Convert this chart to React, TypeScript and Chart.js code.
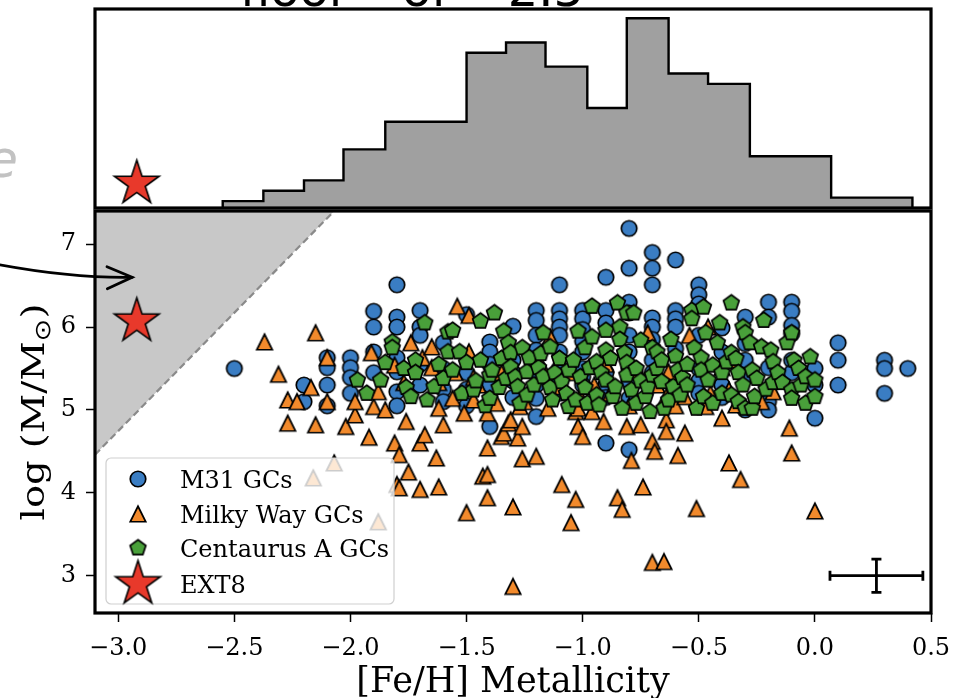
import React, { useEffect, useRef } from "react";
import { Chart, registerables } from "chart.js";
Chart.register(...registerables);

// ---------- axes ----------
const X_MIN = -3.1;
const X_MAX = 0.5;
const Y_MIN = 2.55;
const Y_MAX = 7.4;
const X_TICKS = [-3.0, -2.5, -2.0, -1.5, -1.0, -0.5, 0.0, 0.5];
const Y_TICKS = [3, 4, 5, 6, 7];
const X_LABEL = "[Fe/H] Metallicity";
const Y_LABEL_MAIN = "log (M/M";
const Y_LABEL_SUB = "\u2299";
const Y_LABEL_END = ")";

// ---------- histogram (top panel) ----------
const HIST_EDGES = [-2.55, -2.375, -2.2, -2.03, -1.85, -1.68, -1.5, -1.33, -1.16, -0.98, -0.81, -0.63, -0.46, -0.28, -0.11, 0.07, 0.24, 0.42];
const HIST_COUNTS = [2, 5, 8, 17, 25, 25, 45, 48, 41, 29, 55, 39, 36, 15, 15, 3, 3];
const HIST_MAX = 57.7;
const EXT8_HIST_Y = 7.1;

// ---------- scatter (bottom panel) ----------
const M31_GCS: [number, number][] = [
  [-2.5, 5.5],
  [-2.2, 5.3], [-2.2, 5.1],
  [-2.1, 5.63], [-2.1, 5.51], [-2.1, 5.3], [-2.1, 5.05],
  [-2.0, 5.63], [-2.0, 5.51], [-2.0, 5.39], [-2.0, 5.2],
  [-1.9, 6.19], [-1.9, 6.0], [-1.9, 5.7], [-1.9, 5.45],
  [-1.8, 6.51], [-1.8, 6.12], [-1.8, 6.0], [-1.8, 5.63], [-1.8, 5.46], [-1.8, 5.22], [-1.8, 5.05],
  [-1.7, 6.2], [-1.7, 6.0], [-1.7, 5.9], [-1.7, 5.55], [-1.7, 5.3],
  [-1.6, 5.81], [-1.6, 5.5], [-1.6, 5.25], [-1.6, 5.1],
  [-1.5, 6.15], [-1.5, 5.45], [-1.5, 5.25], [-1.5, 5.05],
  [-1.4, 5.82], [-1.4, 5.7], [-1.4, 5.55], [-1.4, 5.3], [-1.4, 4.8],
  [-1.3, 6.01], [-1.3, 5.6], [-1.3, 5.45], [-1.3, 5.35], [-1.3, 5.15],
  [-1.2, 6.2], [-1.2, 6.08], [-1.2, 5.9], [-1.2, 5.72], [-1.2, 5.45], [-1.2, 5.3], [-1.2, 5.14], [-1.2, 4.92],
  [-1.1, 6.51], [-1.1, 6.2], [-1.1, 6.1], [-1.1, 6.0], [-1.1, 5.9], [-1.1, 5.7], [-1.1, 5.5], [-1.1, 5.35], [-1.1, 5.2],
  [-1.0, 6.2], [-1.0, 6.1], [-1.0, 5.97], [-1.0, 5.83], [-1.0, 5.7], [-1.0, 5.5], [-1.0, 5.4], [-1.0, 5.3],
  [-0.9, 6.6], [-0.9, 6.2], [-0.9, 6.05], [-0.9, 5.6], [-0.9, 5.45], [-0.9, 5.3], [-0.9, 5.15], [-0.9, 4.6],
  [-0.8, 7.19], [-0.8, 6.71], [-0.8, 6.3], [-0.8, 6.17], [-0.8, 5.9], [-0.8, 5.7], [-0.8, 5.5], [-0.8, 5.35], [-0.8, 5.14], [-0.8, 4.52],
  [-0.7, 6.9], [-0.7, 6.71], [-0.7, 6.51], [-0.7, 6.11], [-0.7, 6.0], [-0.7, 5.85], [-0.7, 5.6], [-0.7, 5.45], [-0.7, 5.3],
  [-0.6, 6.81], [-0.6, 6.2], [-0.6, 6.1], [-0.6, 6.0], [-0.6, 5.74], [-0.6, 5.4], [-0.6, 5.25],
  [-0.5, 6.51], [-0.5, 6.39], [-0.5, 6.28], [-0.5, 5.9], [-0.5, 5.5], [-0.5, 5.35], [-0.5, 5.2],
  [-0.4, 5.99], [-0.4, 5.7], [-0.4, 5.3], [-0.4, 5.15],
  [-0.3, 6.12], [-0.3, 5.8], [-0.3, 5.6], [-0.3, 5.4], [-0.3, 5.0],
  [-0.2, 6.3], [-0.2, 6.12], [-0.2, 5.51], [-0.2, 5.1], [-0.2, 5.0],
  [-0.1, 6.3], [-0.1, 6.19], [-0.1, 6.02], [-0.1, 5.92], [-0.1, 5.6], [-0.1, 5.45],
  [0.0, 5.5], [0.0, 5.3], [0.0, 4.9],
  [0.1, 5.81], [0.1, 5.6], [0.1, 5.3],
  [0.3, 5.6], [0.3, 5.5], [0.3, 5.2],
  [0.4, 5.5],
];

const MW_GCS: [number, number][] = [
  [-2.37, 5.82], [-2.31, 5.43], [-2.27, 5.12], [-2.27, 4.84], [-2.23, 5.1], [-2.17, 5.27], [-2.16, 4.18],
  [-2.15, 5.93], [-2.15, 4.82], [-2.1, 5.63], [-2.1, 5.1], [-2.07, 4.36], [-2.02, 4.8], [-1.98, 4.94],
  [-1.98, 5.1], [-1.92, 4.67], [-1.91, 5.69], [-1.9, 5.04], [-1.88, 5.22], [-1.88, 3.65], [-1.85, 5.0],
  [-1.81, 5.54], [-1.81, 4.6], [-1.8, 4.1], [-1.79, 4.46], [-1.79, 4.06], [-1.77, 5.33], [-1.76, 4.86],
  [-1.75, 4.25], [-1.74, 5.81], [-1.7, 4.6], [-1.7, 4.04], [-1.69, 5.63], [-1.68, 4.7], [-1.65, 5.76],
  [-1.65, 5.51], [-1.63, 4.42], [-1.62, 5.02], [-1.62, 5.33], [-1.62, 4.07], [-1.6, 4.82],
  [-1.56, 5.14], [-1.55, 5.45], [-1.54, 6.25], [-1.51, 4.96], [-1.5, 3.76], [-1.49, 6.14], [-1.49, 5.7],
  [-1.47, 5.39], [-1.47, 5.12], [-1.45, 5.3], [-1.43, 4.2], [-1.41, 4.96], [-1.41, 4.54], [-1.41, 4.22],
  [-1.41, 3.94], [-1.37, 5.08], [-1.35, 5.45], [-1.35, 4.68], [-1.34, 4.72], [-1.32, 4.84], [-1.31, 4.88],
  [-1.3, 3.83], [-1.3, 2.87], [-1.28, 4.66], [-1.27, 5.04], [-1.26, 4.8], [-1.26, 4.41], [-1.25, 5.1],
  [-1.2, 5.6], [-1.2, 4.44], [-1.18, 5.55],
  [-1.15, 5.02], [-1.14, 5.88], [-1.11, 5.28], [-1.09, 4.1], [-1.05, 5.45], [-1.05, 3.64], [-1.03, 4.98],
  [-1.03, 3.92], [-1.02, 5.02], [-1.02, 4.8], [-1.01, 5.16], [-1.0, 4.68], [-0.96, 4.98], [-0.95, 5.3],
  [-0.91, 4.86], [-0.9, 5.55], [-0.88, 5.2], [-0.85, 3.94], [-0.83, 3.8], [-0.81, 4.8], [-0.8, 5.05],
  [-0.79, 4.39], [-0.76, 5.46], [-0.75, 4.82], [-0.74, 4.07], [-0.72, 5.93], [-0.7, 4.62], [-0.7, 3.16],
  [-0.69, 4.5], [-0.68, 5.3], [-0.65, 3.17], [-0.64, 5.16], [-0.64, 4.88], [-0.64, 4.74], [-0.63, 5.46],
  [-0.6, 5.05], [-0.59, 4.45], [-0.56, 5.16], [-0.56, 4.72], [-0.54, 5.9], [-0.51, 3.81], [-0.47, 5.04],
  [-0.46, 6.0], [-0.45, 5.2], [-0.4, 5.51], [-0.4, 4.9], [-0.37, 5.24], [-0.37, 4.36], [-0.36, 5.6],
  [-0.34, 5.06], [-0.32, 4.16], [-0.23, 5.1], [-0.18, 5.22], [-0.11, 4.78], [-0.1, 4.48], [0.0, 3.78],
];

const CENA_GCS: [number, number][] = [
  [-1.97, 5.36], [-1.93, 5.2], [-1.87, 5.36], [-1.85, 5.57], [-1.82, 5.82], [-1.82, 5.75], [-1.77, 5.5],
  [-1.76, 5.27], [-1.74, 5.16], [-1.72, 5.6], [-1.72, 5.45], [-1.68, 6.05], [-1.67, 5.12], [-1.64, 5.28],
  [-1.62, 5.55], [-1.6, 5.38], [-1.58, 5.7], [-1.58, 5.94], [-1.56, 5.96], [-1.56, 5.48], [-1.53, 5.7],
  [-1.52, 5.2], [-1.5, 5.57], [-1.47, 5.24], [-1.46, 5.35], [-1.44, 6.07], [-1.44, 5.6], [-1.42, 5.05],
  [-1.4, 5.42], [-1.4, 5.14], [-1.39, 5.48], [-1.38, 6.17], [-1.36, 5.27], [-1.35, 5.62], [-1.34, 5.95],
  [-1.33, 5.38], [-1.32, 5.81], [-1.31, 5.69], [-1.31, 5.52], [-1.29, 5.4], [-1.28, 5.28], [-1.27, 5.08],
  [-1.26, 5.75], [-1.24, 5.46], [-1.24, 5.18], [-1.23, 5.63], [-1.21, 5.3], [-1.19, 5.51], [-1.18, 5.68],
  [-1.17, 5.93], [-1.17, 5.4], [-1.14, 5.76], [-1.14, 5.27], [-1.13, 5.12], [-1.12, 5.45], [-1.1, 5.62],
  [-1.09, 5.34], [-1.07, 5.2], [-1.06, 5.48], [-1.06, 5.04], [-1.04, 5.6], [-1.03, 5.12], [-1.02, 5.95],
  [-1.01, 5.4], [-0.99, 5.75], [-0.99, 5.27], [-0.98, 5.08], [-0.97, 5.51], [-0.96, 6.25], [-0.96, 5.88],
  [-0.94, 5.58], [-0.94, 5.18], [-0.93, 5.06], [-0.92, 5.45], [-0.9, 5.96], [-0.9, 5.72], [-0.9, 5.36],
  [-0.88, 5.62], [-0.87, 5.16], [-0.86, 5.28], [-0.85, 6.29], [-0.84, 6.0], [-0.84, 5.85], [-0.83, 5.02],
  [-0.82, 5.69], [-0.81, 6.17], [-0.81, 5.57], [-0.81, 5.42], [-0.79, 5.24], [-0.78, 6.17], [-0.77, 5.5],
  [-0.77, 5.08], [-0.75, 5.84], [-0.75, 5.35], [-0.73, 5.16], [-0.72, 5.28], [-0.71, 4.98], [-0.7, 5.75],
  [-0.7, 5.42], [-0.68, 5.5], [-0.68, 5.7], [-0.66, 5.6], [-0.66, 5.34], [-0.65, 5.02], [-0.63, 5.12],
  [-0.62, 5.85], [-0.61, 5.28], [-0.6, 5.65], [-0.59, 5.48], [-0.58, 5.18], [-0.57, 5.39], [-0.55, 5.55],
  [-0.55, 5.3], [-0.53, 6.2], [-0.53, 6.1], [-0.52, 5.75], [-0.51, 5.02], [-0.49, 5.63], [-0.49, 5.48],
  [-0.48, 6.24], [-0.48, 5.16], [-0.47, 5.93], [-0.46, 5.36], [-0.44, 5.54], [-0.44, 5.08], [-0.42, 5.81],
  [-0.41, 6.05], [-0.4, 5.45], [-0.4, 5.2], [-0.38, 5.58], [-0.36, 6.29], [-0.36, 5.69], [-0.36, 5.18],
  [-0.34, 5.62], [-0.33, 5.45], [-0.33, 5.1], [-0.31, 6.0], [-0.31, 5.3], [-0.3, 5.93], [-0.3, 5.02],
  [-0.28, 5.81], [-0.27, 5.48], [-0.27, 5.02], [-0.26, 5.16], [-0.25, 5.38], [-0.23, 5.76], [-0.22, 6.08],
  [-0.21, 5.25], [-0.19, 5.72], [-0.18, 5.58], [-0.18, 5.33], [-0.16, 5.45], [-0.14, 5.33], [-0.12, 5.81],
  [-0.1, 5.93], [-0.1, 5.24], [-0.1, 5.14], [-0.09, 5.6], [-0.07, 5.5], [-0.06, 5.3], [-0.04, 5.4],
  [-0.04, 5.08], [-0.02, 5.64], [0.0, 5.36], [0.0, 5.16],
];

const EXT8: [number, number] = [-2.92, 6.07];

// shaded (excluded) region boundary
const SHADE_X = [-3.1, -2.07];
const SHADE_Y = [4.46, 7.4];

// representative error bar
const ERR_X = 0.265;
const ERR_Y = 3.0;
const ERR_DX = 0.2;
const ERR_DY = 0.2;

// annotation arrow (data coordinates, tail outside the axes)
const ARROW_FROM: [number, number] = [-3.51, 6.75];
const ARROW_TO: [number, number] = [-2.94, 6.6];

const LEGEND_LABELS = ["M31 GCs", "Milky Way GCs", "Centaurus A GCs", "EXT8"];

// ---------- styles ----------
const C_M31 = "#3a7dc3";
const C_MW = "#f28a2c";
const C_CENA = "#49a03a";
const C_EXT8 = "#e8392b";
const SERIF = '"DejaVu Serif", serif';

function makeMarker(kind: string, size: number, fill: string, lw = 1.7): HTMLCanvasElement {
  const pad = 4;
  const dim = Math.ceil(size + 2 * pad);
  const c = document.createElement("canvas");
  c.width = dim;
  c.height = dim;
  const ctx = c.getContext("2d")!;
  const cx = dim / 2;
  const cy = dim / 2;
  const r = size / 2;
  ctx.beginPath();
  if (kind === "circle") {
    ctx.arc(cx, cy, r, 0, Math.PI * 2);
  } else if (kind === "triangle") {
    ctx.moveTo(cx, cy - r);
    ctx.lineTo(cx + r, cy + r);
    ctx.lineTo(cx - r, cy + r);
    ctx.closePath();
  } else {
    const n = kind === "pentagon" ? 5 : 10;
    for (let i = 0; i < n; i++) {
      const a = -Math.PI / 2 + (i * 2 * Math.PI) / n;
      const rr = kind === "star" && i % 2 === 1 ? r * 0.381966 : r;
      const px = cx + rr * Math.cos(a);
      const py = cy + rr * Math.sin(a);
      if (i === 0) ctx.moveTo(px, py);
      else ctx.lineTo(px, py);
    }
    ctx.closePath();
  }
  ctx.fillStyle = fill;
  ctx.fill();
  ctx.lineWidth = lw;
  ctx.strokeStyle = "#000";
  ctx.lineJoin = "miter";
  ctx.stroke();
  return c;
}

const fmtX = (v: number) => {
  const s = Math.abs(v).toFixed(1);
  return v < -1e-9 ? "\u2212" + s : s;
};

export default function App() {
  const histRef = useRef<HTMLCanvasElement>(null);
  const mainRef = useRef<HTMLCanvasElement>(null);

  useEffect(() => {
    const imgM31 = makeMarker("circle", 15.5, C_M31);
    const imgMW = makeMarker("triangle", 15.5, C_MW);
    const imgCen = makeMarker("pentagon", 16.5, C_CENA);
    const imgStar = makeMarker("star", 47, C_EXT8, 1.6);

    // ---------- histogram ----------
    const stepPts: { x: number; y: number }[] = [{ x: HIST_EDGES[0], y: 0 }];
    HIST_COUNTS.forEach((c, i) => stepPts.push({ x: HIST_EDGES[i], y: c }));
    stepPts.push({ x: HIST_EDGES[HIST_EDGES.length - 1], y: 0 });

    const histPlugin = {
      id: "histDecor",
      afterDraw(chart: any) {
        const ctx = chart.ctx;
        const ca = chart.chartArea;
        ctx.save();
        ctx.lineWidth = 3.2;
        ctx.strokeStyle = "#000";
        ctx.strokeRect(ca.left, ca.top, ca.right - ca.left, ca.bottom - ca.top);
        // cropped annotation text above the panel
        ctx.fillStyle = "#000";
        ctx.font = '48px "DejaVu Sans"';
        ctx.textBaseline = "alphabetic";
        ctx.textAlign = "left";
        ctx.fillText("floor", 240, 6);
        ctx.fillText("of", 402, 6);
        ctx.textAlign = "right";
        ctx.fillText("~2.5", 584, 6);
        ctx.restore();
      },
    };

    const hist = new Chart(histRef.current!, {
      type: "scatter",
      data: {
        datasets: [
          {
            type: "line",
            label: "hist",
            data: stepPts,
            stepped: true,
            fill: "origin",
            backgroundColor: "#a0a0a0",
            borderColor: "#000",
            borderWidth: 2.4,
            pointRadius: 0,
            order: 2,
          } as any,
          {
            label: "EXT8",
            data: [{ x: EXT8[0], y: EXT8_HIST_Y }],
            pointStyle: imgStar as any,
            pointRadius: 7,
            order: 1,
          },
        ],
      },
      options: {
        responsive: false,
        animation: false,
        devicePixelRatio: 1,
        events: [],
        layout: { padding: { left: 95, right: 24, top: 9, bottom: 5 } },
        plugins: { legend: { display: false }, tooltip: { enabled: false } },
        scales: {
          x: { type: "linear", min: X_MIN, max: X_MAX, display: false },
          y: { type: "linear", min: 0, max: HIST_MAX, display: false },
        },
      },
      plugins: [histPlugin],
    });

    // ---------- scatter ----------
    const overlay = {
      id: "overlay",
      afterDraw(chart: any) {
        const ctx = chart.ctx;
        const ca = chart.chartArea;
        const xs = chart.scales.x;
        const ys = chart.scales.y;
        ctx.save();

        // error bar
        const ex = xs.getPixelForValue(ERR_X);
        const ey = ys.getPixelForValue(ERR_Y);
        const ex0 = xs.getPixelForValue(ERR_X - ERR_DX);
        const ex1 = xs.getPixelForValue(ERR_X + ERR_DX);
        const ey0 = ys.getPixelForValue(ERR_Y - ERR_DY);
        const ey1 = ys.getPixelForValue(ERR_Y + ERR_DY);
        ctx.strokeStyle = "#000";
        ctx.lineWidth = 2.8;
        ctx.beginPath();
        ctx.moveTo(ex0, ey);
        ctx.lineTo(ex1, ey);
        ctx.moveTo(ex, ey0);
        ctx.lineTo(ex, ey1);
        ctx.moveTo(ex0, ey - 5);
        ctx.lineTo(ex0, ey + 5);
        ctx.moveTo(ex1, ey - 5);
        ctx.lineTo(ex1, ey + 5);
        ctx.moveTo(ex - 5, ey0);
        ctx.lineTo(ex + 5, ey0);
        ctx.moveTo(ex - 5, ey1);
        ctx.lineTo(ex + 5, ey1);
        ctx.stroke();

        // frame
        ctx.lineWidth = 3.2;
        ctx.strokeRect(ca.left, ca.top, ca.right - ca.left, ca.bottom - ca.top);

        // legend
        const lx = ca.left + 11;
        const lw = 288;
        const lh = 146;
        const ly = ca.bottom - 9 - lh;
        ctx.beginPath();
        (ctx as any).roundRect(lx, ly, lw, lh, 5);
        ctx.fillStyle = "rgba(255,255,255,0.8)";
        ctx.fill();
        ctx.lineWidth = 1.2;
        ctx.strokeStyle = "#cfcfcf";
        ctx.stroke();
        const imgs = [imgM31, imgMW, imgCen, imgStar];
        const offs = [21, 56, 90, 126];
        ctx.fillStyle = "#000";
        ctx.font = `24px ${SERIF}`;
        ctx.textAlign = "left";
        ctx.textBaseline = "alphabetic";
        imgs.forEach((img, i) => {
          const cy = ly + offs[i];
          ctx.drawImage(img, lx + 32 - img.width / 2, cy - img.height / 2);
          ctx.fillText(LEGEND_LABELS[i], lx + 74, cy + 8.5);
        });

        // axis titles
        ctx.fillStyle = "#000";
        ctx.font = `35px ${SERIF}`;
        ctx.textAlign = "center";
        ctx.fillText(X_LABEL, (ca.left + ca.right) / 2, 692);

        ctx.save();
        ctx.translate(44, (ca.top + ca.bottom) / 2);
        ctx.rotate(-Math.PI / 2);
        ctx.scale(1.24, 1);
        const fMain = `31px ${SERIF}`;
        const fSub = '22px "DejaVu Sans"';
        ctx.font = fMain;
        const w1 = ctx.measureText(Y_LABEL_MAIN).width;
        const w3 = ctx.measureText(Y_LABEL_END).width;
        ctx.font = fSub;
        const w2 = ctx.measureText(Y_LABEL_SUB).width;
        let tx = -(w1 + w2 + w3) / 2;
        ctx.textAlign = "left";
        ctx.font = fMain;
        ctx.fillText(Y_LABEL_MAIN, tx, 0);
        tx += w1;
        ctx.font = fSub;
        ctx.fillText(Y_LABEL_SUB, tx, 6);
        tx += w2;
        ctx.font = fMain;
        ctx.fillText(Y_LABEL_END, tx, 0);
        ctx.restore();

        // arrow annotation
        const ax0 = xs.getPixelForValue(ARROW_FROM[0]);
        const ay0 = ys.getPixelForValue(ARROW_FROM[1]);
        const ax1 = xs.getPixelForValue(ARROW_TO[0]);
        const ay1 = ys.getPixelForValue(ARROW_TO[1]);
        const qx = ax0 + 0.55 * (ax1 - ax0);
        const qy = ay1 + 1;
        ctx.strokeStyle = "#000";
        ctx.lineWidth = 2.8;
        ctx.lineCap = "round";
        ctx.beginPath();
        ctx.moveTo(ax0, ay0);
        ctx.quadraticCurveTo(qx, qy, ax1, ay1);
        ctx.stroke();
        const dx = ax1 - qx;
        const dy = ay1 - qy;
        const len = Math.hypot(dx, dy);
        const ux = dx / len;
        const uy = dy / len;
        const hl = 25;
        const hw = 11;
        ctx.beginPath();
        ctx.moveTo(ax1 - hl * ux - hw * uy, ay1 - hl * uy + hw * ux);
        ctx.lineTo(ax1, ay1);
        ctx.lineTo(ax1 - hl * ux + hw * uy, ay1 - hl * uy - hw * ux);
        ctx.stroke();

        // cropped annotation fragment at left
        ctx.fillStyle = "#c2c2c2";
        ctx.font = 'italic 52px "DejaVu Sans"';
        ctx.textAlign = "right";
        ctx.fillText("e", 18, 177);

        ctx.restore();
      },
    };

    const tickFont = { family: SERIF, size: 24 };
    const main = new Chart(mainRef.current!, {
      type: "scatter",
      data: {
        datasets: [
          {
            type: "line",
            label: "shade",
            data: SHADE_X.map((x, i) => ({ x, y: SHADE_Y[i] })),
            fill: "end",
            backgroundColor: "#c8c8c8",
            borderColor: "#8a8a8a",
            borderWidth: 2.2,
            borderDash: [7, 4],
            pointRadius: 0,
            order: 5,
          } as any,
          {
            label: LEGEND_LABELS[0],
            data: M31_GCS.map(([x, y]) => ({ x, y })),
            pointStyle: imgM31 as any,
            pointRadius: 7,
            order: 4,
          },
          {
            label: LEGEND_LABELS[1],
            data: MW_GCS.map(([x, y]) => ({ x, y })),
            pointStyle: imgMW as any,
            pointRadius: 7,
            order: 3,
          },
          {
            label: LEGEND_LABELS[2],
            data: CENA_GCS.map(([x, y]) => ({ x, y })),
            pointStyle: imgCen as any,
            pointRadius: 7,
            order: 2,
          },
          {
            label: LEGEND_LABELS[3],
            data: [{ x: EXT8[0], y: EXT8[1] }],
            pointStyle: imgStar as any,
            pointRadius: 7,
            order: 1,
          },
        ],
      },
      options: {
        responsive: false,
        animation: false,
        devicePixelRatio: 1,
        events: [],
        layout: { padding: { left: 0, right: 24, top: 211, bottom: 0 } },
        plugins: { legend: { display: false }, tooltip: { enabled: false } },
        scales: {
          x: {
            type: "linear",
            min: X_MIN,
            max: X_MAX,
            afterBuildTicks: (s: any) => {
              s.ticks = X_TICKS.map((v) => ({ value: v }));
            },
            afterFit: (s: any) => {
              s.height = 85;
              s.paddingLeft = 0;
              s.paddingRight = 0;
            },
            ticks: {
              font: tickFont,
              color: "#000",
              padding: 12,
              maxRotation: 0,
              autoSkip: false,
              callback: (v: any) => fmtX(Number(v)),
            },
            grid: { drawOnChartArea: false, drawTicks: true, tickLength: 9, tickWidth: 1.5, tickColor: "#000" },
            border: { display: false },
          },
          y: {
            type: "linear",
            min: Y_MIN,
            max: Y_MAX,
            afterBuildTicks: (s: any) => {
              s.ticks = Y_TICKS.map((v) => ({ value: v }));
            },
            afterFit: (s: any) => {
              s.width = 95;
              s.paddingTop = 0;
              s.paddingBottom = 0;
            },
            ticks: {
              font: tickFont,
              color: "#000",
              padding: 10,
              callback: (v: any) => String(v),
            },
            grid: { drawOnChartArea: false, drawTicks: true, tickLength: 9, tickWidth: 1.5, tickColor: "#000" },
            border: { display: false },
          },
        },
      },
      plugins: [overlay],
    });

    return () => {
      hist.destroy();
      main.destroy();
    };
  }, []);

  return (
    <div style={{ position: "fixed", left: 0, top: 0, width: 955, height: 698, background: "#fff" }}>
      <canvas ref={histRef} width={955} height={216} style={{ position: "absolute", left: 0, top: 0 }} />
      <canvas ref={mainRef} width={955} height={698} style={{ position: "absolute", left: 0, top: 0 }} />
    </div>
  );
}
